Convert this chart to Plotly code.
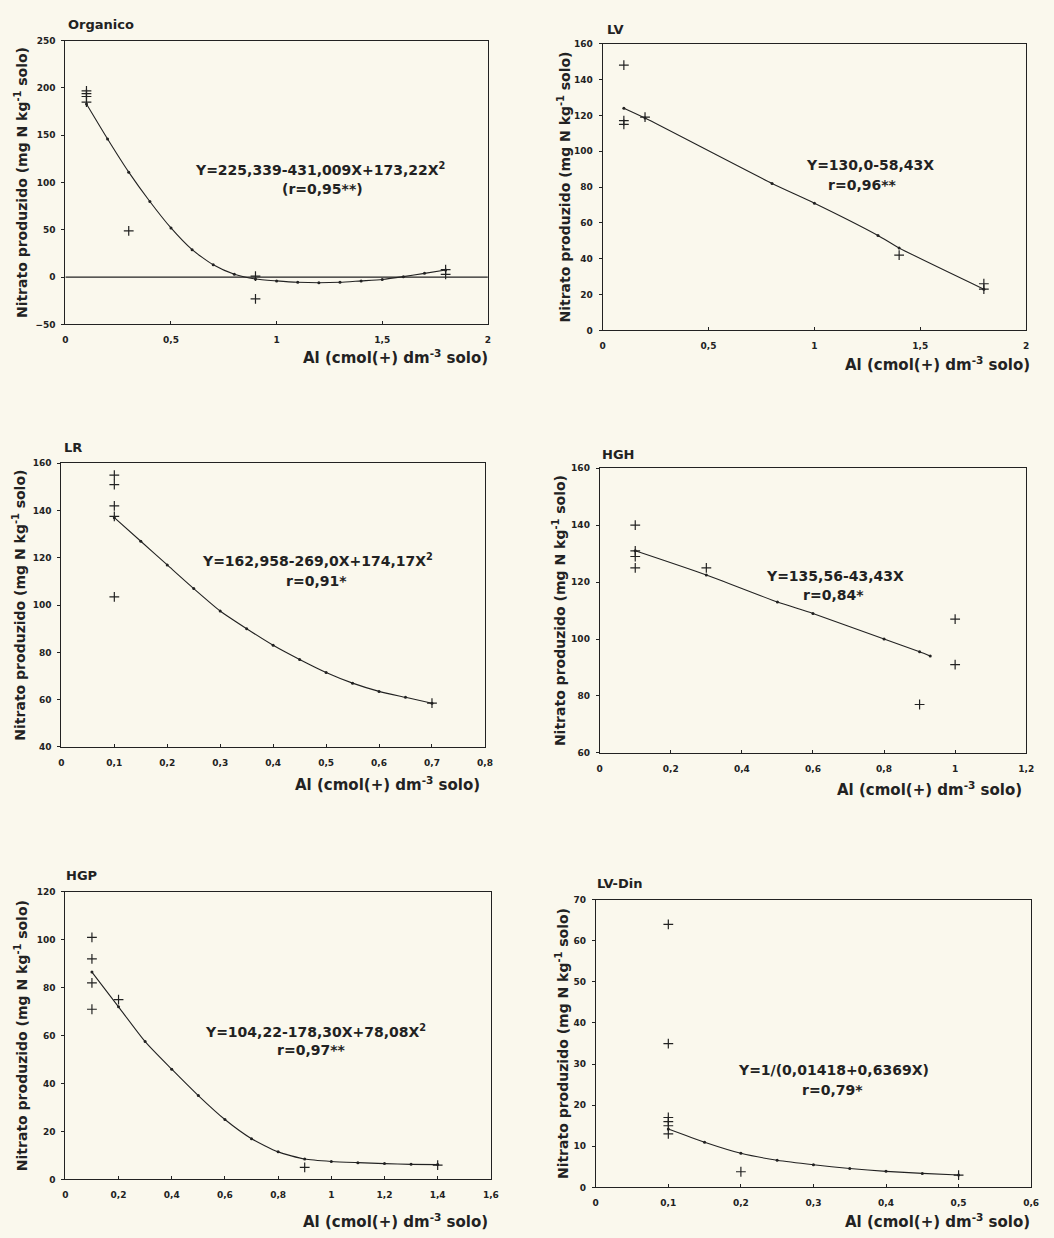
import plotly.graph_objects as go

W, H = 1054, 1238

# ---------------- data ----------------
# Organico
org_px = [0.1, 0.1, 0.1, 0.1, 0.3, 0.9, 0.9, 1.8, 1.8]
org_py = [197, 194, 191, 185, 49, 1, -23, 8, 3]
org_cx = [0.1, 0.2, 0.3, 0.4, 0.5, 0.6, 0.7, 0.8, 0.9, 1.0, 1.1, 1.2, 1.3, 1.4, 1.5, 1.6, 1.7, 1.8]
org_cy = [183, 146, 111, 80, 52, 29, 13, 3, -2, -4, -5.5, -6, -5.5, -4, -2.5, 0.5, 4, 7.5]
org_zx = [0, 2]
org_zy = [0, 0]

# LV
lv_px = [0.1, 0.1, 0.1, 0.2, 1.4, 1.8, 1.8]
lv_py = [148, 117, 115, 119, 42, 26, 23]
lv_cx = [0.1, 0.2, 0.8, 1.0, 1.3, 1.4, 1.8]
lv_cy = [124, 118.5, 82, 71, 53, 46, 23]

# LR
lr_px = [0.1, 0.1, 0.1, 0.1, 0.1, 0.7]
lr_py = [155, 151, 142, 137.5, 103.5, 58.5]
lr_cx = [0.1, 0.15, 0.2, 0.25, 0.3, 0.35, 0.4, 0.45, 0.5, 0.55, 0.6, 0.65, 0.7]
lr_cy = [137, 127, 117, 107, 97.5, 90, 83, 77, 71.5, 67, 63.5, 61, 58.5]

# HGH
hgh_px = [0.1, 0.1, 0.1, 0.1, 0.3, 0.9, 1.0, 1.0]
hgh_py = [140, 131, 129, 125, 125, 77, 107, 91]
hgh_cx = [0.1, 0.3, 0.5, 0.6, 0.8, 0.9, 0.93]
hgh_cy = [131, 122.5, 113, 109, 100, 95.5, 94]

# HGP
hgp_px = [0.1, 0.1, 0.1, 0.1, 0.2, 0.9, 1.4]
hgp_py = [101, 92, 82, 71, 75, 5, 6]
hgp_cx = [0.1, 0.2, 0.3, 0.4, 0.5, 0.6, 0.7, 0.8, 0.9, 1.0, 1.1, 1.2, 1.3, 1.4]
hgp_cy = [86.5, 72, 57.5, 46, 35, 25, 17, 11.5, 8.5, 7.5, 7, 6.6, 6.3, 6.2]

# LV-Din
din_px = [0.1, 0.1, 0.1, 0.1, 0.1, 0.1, 0.2, 0.5]
din_py = [64, 35, 17, 16, 15, 13, 3.8, 3]
din_cx = [0.1, 0.15, 0.2, 0.25, 0.3, 0.35, 0.4, 0.45, 0.5]
din_cy = [14.2, 11, 8.3, 6.6, 5.5, 4.6, 3.9, 3.4, 3.0]

# tick labels
org_xt = [0, 0.5, 1, 1.5, 2]; org_xl = ["0", "0,5", "1", "1,5", "2"]
org_yt = [-50, 0, 50, 100, 150, 200, 250]
lv_xt = [0, 0.5, 1, 1.5, 2]; lv_xl = ["0", "0,5", "1", "1,5", "2"]
lv_yt = [0, 20, 40, 60, 80, 100, 120, 140, 160]
lr_xt = [0, 0.1, 0.2, 0.3, 0.4, 0.5, 0.6, 0.7, 0.8]
lr_xl = ["0", "0,1", "0,2", "0,3", "0,4", "0,5", "0,6", "0,7", "0,8"]
lr_yt = [40, 60, 80, 100, 120, 140, 160]
hgh_xt = [0, 0.2, 0.4, 0.6, 0.8, 1, 1.2]
hgh_xl = ["0", "0,2", "0,4", "0,6", "0,8", "1", "1,2"]
hgh_yt = [60, 80, 100, 120, 140, 160]
hgp_xt = [0, 0.2, 0.4, 0.6, 0.8, 1, 1.2, 1.4, 1.6]
hgp_xl = ["0", "0,2", "0,4", "0,6", "0,8", "1", "1,2", "1,4", "1,6"]
hgp_yt = [0, 20, 40, 60, 80, 100, 120]
din_xt = [0, 0.1, 0.2, 0.3, 0.4, 0.5, 0.6]
din_xl = ["0", "0,1", "0,2", "0,3", "0,4", "0,5", "0,6"]
din_yt = [0, 10, 20, 30, 40, 50, 60, 70]

titles = ["Organico", "LV", "LR", "HGH", "HGP", "LV-Din"]
equations = [
    "Y=225,339-431,009X+173,22X<sup>2</sup>",
    "Y=130,0-58,43X",
    "Y=162,958-269,0X+174,17X<sup>2</sup>",
    "Y=135,56-43,43X",
    "Y=104,22-178,30X+78,08X<sup>2</sup>",
    "Y=1/(0,01418+0,6369X)",
]
rvals = ["(r=0,95**)", "r=0,96**", "r=0,91*", "r=0,84*", "r=0,97**", "r=0,79*"]
ylabel = "Nitrato produzido (mg N kg<sup>-1</sup> solo)"
xlabel = "Al (cmol(+) dm<sup>-3</sup> solo)"

# ---------------- layout (pixel boxes) ----------------
panels = [
    dict(box=(63, 490, 36, 322), xr=[0, 2], yr=[-50, 250], xt=org_xt, xl=org_xl, yt=org_yt,
         px=org_px, py=org_py, cx=org_cx, cy=org_cy, eq=(320, 165), r=(323, 186),
         ttl=(64, 20), so=4, xlab=(492, 355)),
    dict(box=(606, 1034, 39, 328), xr=[0, 2], yr=[0, 160], xt=lv_xt, xl=lv_xl, yt=lv_yt,
         px=lv_px, py=lv_py, cx=lv_cx, cy=lv_cy, eq=(876, 161), r=(868, 181),
         ttl=(608, 25), so=0, xlab=(1040, 362)),
    dict(box=(59, 487, 462, 748), xr=[0, 0.8], yr=[40, 160], xt=lr_xt, xl=lr_xl, yt=lr_yt,
         px=lr_px, py=lr_py, cx=lr_cx, cy=lr_cy, eq=(318, 560), r=(317, 581),
         ttl=(60, 446), so=3, xlab=(484, 785)),
    dict(box=(603, 1034, 467, 754), xr=[0, 1.2], yr=[60, 160], xt=hgh_xt, xl=hgh_xl, yt=hgh_yt,
         px=hgh_px, py=hgh_py, cx=hgh_cx, cy=hgh_cy, eq=(841, 576), r=(839, 595),
         ttl=(603, 453), so=2, xlab=(1032, 790)),
    dict(box=(63, 493, 894, 1184), xr=[0, 1.6], yr=[0, 120], xt=hgp_xt, xl=hgp_xl, yt=hgp_yt,
         px=hgp_px, py=hgp_py, cx=hgp_cx, cy=hgp_cy, eq=(316, 1034), r=(311, 1054),
         ttl=(62, 878), so=5, xlab=(492, 1226)),
    dict(box=(599, 1039, 902, 1192), xr=[0, 0.6], yr=[0, 70], xt=din_xt, xl=din_xl, yt=din_yt,
         px=din_px, py=din_py, cx=din_cx, cy=din_cy, eq=(839, 1074), r=(838, 1094),
         ttl=(598, 886), so=1, xlab=(1040, 1226)),
]

INK = "#222222"
BG = "#faf8ed"
FONT = "DejaVu Sans, Liberation Sans, sans-serif"

fig = go.Figure()
annotations = []
layout_axes = {}

for i, p in enumerate(panels):
    n = i + 1
    xa = "x" if n == 1 else f"x{n}"
    ya = "y" if n == 1 else f"y{n}"
    xk = "xaxis" if n == 1 else f"xaxis{n}"
    yk = "yaxis" if n == 1 else f"yaxis{n}"
    x0, x1, y0, y1 = p["box"]

    common = dict(showgrid=False, zeroline=False, showline=True, mirror=True,
                  linecolor=INK, linewidth=1, tickcolor=INK, ticklen=3,
                  tickfont=dict(family=FONT, size=9, color=INK, weight="bold"))
    layout_axes[xk] = dict(domain=[x0 / W, x1 / W], range=p["xr"], anchor=ya,
                           tickmode="array", tickvals=p["xt"], ticktext=p["xl"],
                           ticks="inside", ticklabelstandoff=7, **common)
    layout_axes[yk] = dict(domain=[1 - y1 / H, 1 - y0 / H], range=p["yr"], anchor=xa,
                           tickmode="array", tickvals=p["yt"], ticks="outside",
                           ticklabelstandoff=4,
                           title=dict(text=ylabel, standoff=p["so"],
                                      font=dict(family=FONT, size=14, color=INK,
                                                weight="bold")),
                           **common)

    if n == 1:
        fig.add_trace(go.Scatter(x=org_zx, y=org_zy, mode="lines", xaxis=xa, yaxis=ya,
                                 line=dict(color=INK, width=1.3), showlegend=False,
                                 hoverinfo="skip"))
    fig.add_trace(go.Scatter(x=p["cx"], y=p["cy"], mode="lines+markers", xaxis=xa, yaxis=ya,
                             line=dict(color=INK, width=1.1, shape="spline", smoothing=0.6),
                             marker=dict(size=3, color=INK), showlegend=False))
    fig.add_trace(go.Scatter(x=p["px"], y=p["py"], mode="markers", xaxis=xa, yaxis=ya,
                             marker=dict(symbol="cross-thin", size=7,
                                         line=dict(color=INK, width=1.2)),
                             showlegend=False))

    def ann(text, xy, size, xanchor="center"):
        annotations.append(dict(text=text, x=xy[0] / W, y=1 - xy[1] / H, xref="paper",
                                yref="paper", showarrow=False, xanchor=xanchor,
                                yanchor="middle",
                                font=dict(family=FONT, size=size, color=INK, weight="bold")))

    ann(titles[i], p["ttl"], 13, xanchor="left")
    ann(equations[i], p["eq"], 14)
    ann(rvals[i], p["r"], 14)
    ann(xlabel, p["xlab"], 15, xanchor="right")

fig.update_layout(width=W, height=H, margin=dict(l=0, r=0, t=0, b=0),
                  font=dict(family=FONT, size=13, color=INK),
                  paper_bgcolor=BG, plot_bgcolor=BG, showlegend=False,
                  annotations=annotations, **layout_axes)

fig.write_html("out.html", config={"displayModeBar": False},
               post_script="document.body.style.margin='0';"
                           "document.body.style.background='#faf8ed';")
